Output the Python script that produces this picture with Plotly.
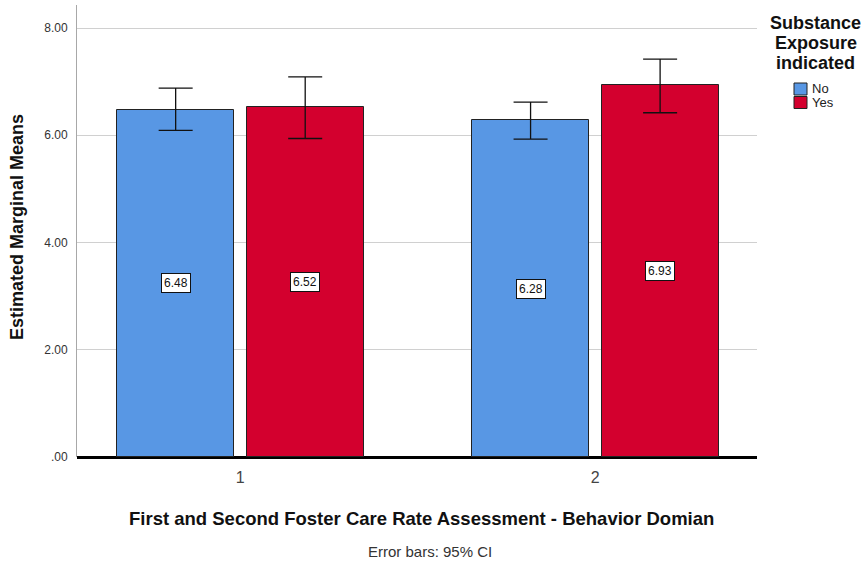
import plotly.graph_objects as go

categories = [1, 2]
category_labels = ["1", "2"]
series_names = ["No", "Yes"]
means_no = [6.48, 6.28]
means_yes = [6.52, 6.93]
ci_low_no = [6.09, 5.93]
ci_high_no = [6.88, 6.62]
ci_low_yes = [5.94, 6.42]
ci_high_yes = [7.09, 7.42]
y_tickvals = [0, 2, 4, 6, 8]
y_ticktext = [".00", "2.00", "4.00", "6.00", "8.00"]
legend_title_lines = ["Substance", "Exposure", "indicated"]

colors = {"No": "#5897E4", "Yes": "#D3002E"}
offsets = {"No": -0.347, "Yes": 0.018}
bar_w = 0.33
FONT = "Liberation Sans, Arial, sans-serif"

series = {
    "No": (means_no, ci_low_no, ci_high_no),
    "Yes": (means_yes, ci_low_yes, ci_high_yes),
}

plot_l, plot_r, plot_t, plot_b = 77, 757, 5, 457
def px_x(p):
    return (p - plot_l) / (plot_r - plot_l)
def px_y(p):
    return (plot_b - p) / (plot_b - plot_t)

fig = go.Figure()
annotations = []
for name in series_names:
    m, lo, hi = series[name]
    fig.add_trace(go.Bar(
        x=categories, y=m, name=name,
        width=bar_w, offset=offsets[name],
        marker=dict(color=colors[name], line=dict(color="#222222", width=1)),
        error_y=dict(type="data", symmetric=False,
                     array=[h - v for h, v in zip(hi, m)],
                     arrayminus=[v - l for v, l in zip(m, lo)],
                     color="#111111", thickness=1.3, width=17),
        showlegend=False,
    ))
    for c, v in zip(categories, m):
        annotations.append(dict(
            x=c + offsets[name] + bar_w / 2, y=v / 2, xref="x", yref="y",
            text=f"{v:.2f}", showarrow=False, xanchor="center", yanchor="middle",
            font=dict(family=FONT, size=12, color="#111111"),
            bgcolor="white", bordercolor="#111111", borderwidth=1, borderpad=2,
        ))

annotations += [
    dict(text="<b>Estimated Marginal Means</b>", x=px_x(17), y=px_y(227), xref="paper", yref="paper",
         xanchor="center", yanchor="middle",
         textangle=-90, showarrow=False, font=dict(family=FONT, size=18, color="#111111")),
    dict(text="<b>First and Second Foster Care Rate Assessment - Behavior Domian</b>",
         x=px_x(421), y=px_y(518), xref="paper", yref="paper", showarrow=False,
         xanchor="center", yanchor="middle",
         font=dict(family=FONT, size=18.5, color="#111111")),
    dict(text="Error bars: 95% CI", x=px_x(430), y=px_y(551), xref="paper", yref="paper",
         xanchor="center", yanchor="middle",
         showarrow=False, font=dict(family=FONT, size=15, color="#333333")),
]
for i, line in enumerate(legend_title_lines):
    annotations.append(dict(text=f"<b>{line}</b>", x=px_x(816), y=px_y(23 + 20 * i),
                            xref="paper", yref="paper", xanchor="center", yanchor="middle",
                            showarrow=False, font=dict(family=FONT, size=18, color="#111111")))

shapes = []
for i, name in enumerate(series_names):
    top = 83 + i * 13.5
    shapes.append(dict(type="rect", xref="paper", yref="paper",
                       x0=px_x(794), x1=px_x(807), y0=px_y(top), y1=px_y(top + 12),
                       fillcolor=colors[name], line=dict(color="#222222", width=1)))
    annotations.append(dict(text=name, x=px_x(810), y=px_y(top + 6), xref="paper", yref="paper",
                            xanchor="left", yanchor="middle", showarrow=False,
                            font=dict(family=FONT, size=13, color="#222222")))

fig.update_layout(
    width=867, height=563,
    margin=dict(l=plot_l, r=867 - plot_r, t=plot_t, b=563 - plot_b),
    paper_bgcolor="white", plot_bgcolor="white",
    annotations=annotations, shapes=shapes,
    xaxis=dict(range=[0.54, 2.456], tickvals=categories, ticktext=category_labels,
               showgrid=False, zeroline=False, showline=False, ticks="",
               ticklabelstandoff=9,
               tickfont=dict(family=FONT, size=16, color="#444444")),
    yaxis=dict(range=[0, 8.43], tickvals=y_tickvals, ticktext=y_ticktext,
               showgrid=True, gridcolor="#D0D0D0", gridwidth=1,
               zeroline=True, zerolinecolor="#000000", zerolinewidth=3,
               showline=True, linecolor="#A8A8A8", linewidth=1, ticks="",
               ticklabelstandoff=6,
               tickfont=dict(family=FONT, size=12, color="#333333")),
    bargap=0, font=dict(family=FONT),
)

fig.write_html("out.html", config={"displayModeBar": False},
               post_script="document.body.style.margin='0';document.body.style.padding='0';")
